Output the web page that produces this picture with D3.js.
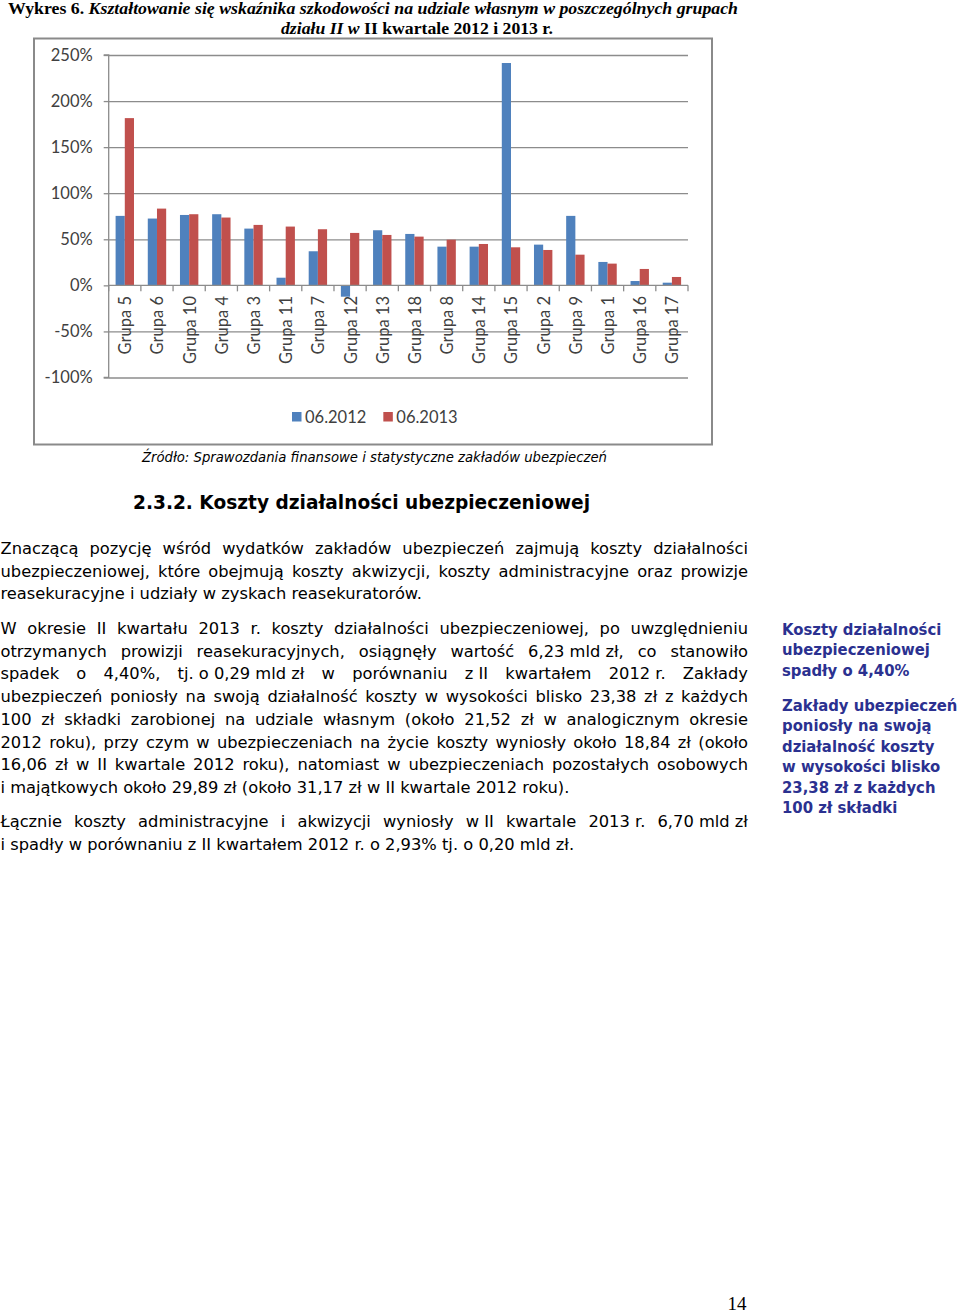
<!DOCTYPE html>
<html>
<head>
<meta charset="utf-8">
<script src="https://cdn.jsdelivr.net/npm/d3@7/dist/d3.min.js"></script>
<style>
html,body{margin:0;padding:0;background:#fff;}
svg{display:block;}
</style>
</head>
<body>
<svg id="page" width="960" height="1314"></svg>
<script>
// ---------- DATA ----------
const categories = ["Grupa 5","Grupa 6","Grupa 10","Grupa 4","Grupa 3","Grupa 11","Grupa 7","Grupa 12","Grupa 13","Grupa 18","Grupa 8","Grupa 14","Grupa 15","Grupa 2","Grupa 9","Grupa 1","Grupa 16","Grupa 17"];
const seriesNames = ["06.2012","06.2013"];
const values2012 = [75.4,72.5,76.4,77.2,61.6,8.3,37.0,-12.3,59.8,55.8,42.0,42.0,241.3,44.2,75.4,25.4,4.7,2.9];
const values2013 = [181.5,83.3,77.2,73.6,65.6,63.8,60.9,56.9,54.7,52.9,49.6,44.9,41.3,38.4,33.3,23.6,17.8,9.1];
const yTicks = [-100,-50,0,50,100,150,200,250];
const seriesColors = ["#4F81BD","#C0504D"];

const titleLine1Plain = "Wykres 6. ";
const titleLine1Italic = "Kształtowanie się wskaźnika szkodowości na udziale własnym w poszczególnych grupach";
const titleLine2Italic = "działu II w ";
const titleLine2Plain = "II kwartale 2012 i 2013 r.";
const sourceText = "Źródło: Sprawozdania finansowe i statystyczne zakładów ubezpieczeń";
const headingText = "2.3.2. Koszty działalności ubezpieczeniowej";
const NB = "\u00a0";
const paragraphs = [
  ["Znaczącą pozycję wśród wydatków zakładów ubezpieczeń zajmują koszty działalności",
   "ubezpieczeniowej, które obejmują koszty akwizycji, koszty administracyjne oraz prowizje",
   "reasekuracyjne i udziały w zyskach reasekuratorów."],
  ["W okresie II kwartału 2013 r. koszty działalności ubezpieczeniowej, po uwzględnieniu",
   "otrzymanych prowizji reasekuracyjnych, osiągnęły wartość 6,23"+NB+"mld"+NB+"zł, co stanowiło",
   "spadek o 4,40%, tj."+NB+"o"+NB+"0,29"+NB+"mld"+NB+"zł w porównaniu z"+NB+"II kwartałem 2012"+NB+"r. Zakłady",
   "ubezpieczeń poniosły na swoją działalność koszty w wysokości blisko 23,38 zł z każdych",
   "100 zł składki zarobionej na udziale własnym (około 21,52 zł w analogicznym okresie",
   "2012 roku), przy czym w ubezpieczeniach na życie koszty wyniosły około 18,84 zł (około",
   "16,06 zł w II kwartale 2012 roku), natomiast w ubezpieczeniach pozostałych osobowych",
   "i majątkowych około 29,89 zł (około 31,17 zł w II kwartale 2012 roku)."],
  ["Łącznie koszty administracyjne i akwizycji wyniosły w"+NB+"II kwartale 2013"+NB+"r. 6,70"+NB+"mld"+NB+"zł",
   "i spadły w porównaniu z II kwartałem 2012 r. o 2,93% tj. o 0,20 mld zł."]
];
const sidebarBlocks = [
  ["Koszty działalności","ubezpieczeniowej","spadły o 4,40%"],
  ["Zakłady ubezpieczeń","poniosły na swoją","działalność koszty","w wysokości blisko","23,38 zł z każdych","100 zł składki"]
];
const pageNumber = "14";

// ---------- PAGE ----------
const svg = d3.select("#page");
const condFont = "'DejaVu Sans Condensed','DejaVu Sans',sans-serif";
const bodyFont = "'DejaVu Sans',Verdana,sans-serif";
const serif = "'Liberation Serif','Times New Roman',serif";
const chartFont = "Lato,'Liberation Sans',sans-serif";

// Title
const t1 = svg.append("text").attr("x",8).attr("y",14)
  .attr("font-family",serif).attr("font-size",17).attr("font-weight","bold")
  .attr("textLength",730).attr("lengthAdjust","spacingAndGlyphs");
t1.append("tspan").text(titleLine1Plain);
t1.append("tspan").attr("font-style","italic").text(titleLine1Italic);
const t2 = svg.append("text").attr("x",281).attr("y",34)
  .attr("font-family",serif).attr("font-size",17).attr("font-weight","bold")
  .attr("textLength",272).attr("lengthAdjust","spacingAndGlyphs");
t2.append("tspan").attr("font-style","italic").text(titleLine2Italic);
t2.append("tspan").text(titleLine2Plain);

// Chart frame
svg.append("rect").attr("x",34).attr("y",38.5).attr("width",678).attr("height",406)
  .attr("fill","#fff").attr("stroke","#8a8a8a").attr("stroke-width",2);

const plot = {left:108.7, right:688, top:55, bottom:377.5};
const y = d3.scaleLinear().domain([-100,250]).range([plot.bottom, plot.top]);
const x = d3.scaleBand().domain(categories).range([plot.left, plot.right]).padding(0);
const xs = d3.scaleBand().domain(seriesNames).range([0, x.bandwidth()]).paddingInner(0).paddingOuter(0.75);

// gridlines
const grid = svg.append("g").attr("transform",`translate(${plot.left},0)`)
  .call(d3.axisLeft(y).tickValues(yTicks.filter(v=>v!==0)).tickSize(-(plot.right-plot.left)).tickFormat(""));
grid.select(".domain").remove();
grid.selectAll("line").attr("stroke","#8c8c8c").attr("stroke-width",1.3);

// y axis
const yAxis = svg.append("g").attr("transform",`translate(${plot.left},0)`)
  .call(d3.axisLeft(y).tickValues(yTicks).tickSize(5).tickPadding(11).tickFormat(d=>d+"%"));
yAxis.select(".domain").attr("stroke","#8c8c8c").attr("stroke-width",1.3).attr("d",`M-5,${plot.bottom}H0V${plot.top}H-5`);
yAxis.selectAll("line").attr("stroke","#8c8c8c").attr("stroke-width",1.3);
yAxis.selectAll("text").attr("font-family",chartFont).attr("font-size",16.5).attr("fill","#404040");

// bars
const data = categories.map((c,i)=>({cat:c, vals:[values2012[i], values2013[i]]}));
const groups = svg.append("g").selectAll("g").data(data).join("g")
  .attr("transform",d=>`translate(${x(d.cat)},0)`);
groups.selectAll("rect").data(d=>d.vals.map((v,k)=>({s:seriesNames[k],v,k}))).join("rect")
  .attr("x",d=>xs(d.s)).attr("width",xs.bandwidth())
  .attr("y",d=>y(Math.max(0,d.v))).attr("height",d=>Math.abs(y(d.v)-y(0)))
  .attr("fill",d=>seriesColors[d.k]);

// category axis
const y0 = y(0);
svg.append("line").attr("x1",plot.left).attr("x2",plot.right).attr("y1",y0).attr("y2",y0)
  .attr("stroke","#8c8c8c").attr("stroke-width",1.3);
const bounds = categories.map(c=>x(c)).concat([x(categories[categories.length-1])+x.bandwidth()]);
svg.append("g").selectAll("line").data(bounds).join("line")
  .attr("x1",d=>d).attr("x2",d=>d).attr("y1",y0).attr("y2",y0+6)
  .attr("stroke","#8c8c8c").attr("stroke-width",1.3);
svg.append("g").selectAll("text").data(categories).join("text")
  .attr("transform",d=>`translate(${x(d)+x.bandwidth()/2+0.5},296) rotate(-90)`)
  .attr("text-anchor","end").attr("dy","0.36em")
  .attr("font-family",chartFont).attr("font-size",16.5).attr("fill","#404040")
  .text(d=>d);

// legend
const legend = svg.append("g").attr("transform","translate(292,417)");
let lx = 0;
seriesNames.forEach((s,k)=>{
  legend.append("rect").attr("x",lx).attr("y",-5).attr("width",9.5).attr("height",9.5).attr("fill",seriesColors[k]);
  const tx = legend.append("text").attr("x",lx+13).attr("y",0).attr("dy","0.36em")
    .attr("font-family",chartFont).attr("font-size",16.5).attr("fill","#404040").text(s);
  lx += 13 + tx.node().getComputedTextLength() + 17;
});

// source
svg.append("text").attr("x",142).attr("y",462).attr("font-family",condFont).attr("font-size",14.5)
  .attr("font-style","italic").attr("textLength",465).attr("lengthAdjust","spacingAndGlyphs")
  .attr("fill","#000").text(sourceText);

// heading
svg.append("text").attr("x",133).attr("y",509).attr("font-family",condFont).attr("font-size",20)
  .attr("font-weight","bold").attr("textLength",457).attr("lengthAdjust","spacingAndGlyphs")
  .attr("fill","#000").text(headingText);

// justified body text
function measure(str, attrs){
  const t = svg.append("text").attr("font-family",attrs.family).attr("font-size",attrs.size)
    .attr("font-weight",attrs.weight||"normal").text(str);
  const w = t.node().getComputedTextLength(); t.remove(); return w;
}
function drawLine(g, str, x0, yb, width, justify, attrs){
  const words = str.split(" ");
  const widths = words.map(w=>measure(w, attrs));
  const space = measure("a a",attrs) - measure("aa",attrs);
  const total = d3.sum(widths);
  let gap = (justify && words.length>1) ? (width-total)/(words.length-1) : space;
  let scale = 1;
  if (justify && gap < space*0.5) { gap = space*0.5; scale = (width - gap*(words.length-1))/total; }
  let cx = x0;
  words.forEach((w,i)=>{
    const t = g.append("text").attr("x",cx).attr("y",yb).attr("font-family",attrs.family)
      .attr("font-size",attrs.size).attr("font-weight",attrs.weight||"normal")
      .attr("fill",attrs.color).text(w);
    if (scale !== 1) t.attr("textLength",widths[i]*scale).attr("lengthAdjust","spacingAndGlyphs");
    cx += widths[i]*scale + gap;
  });
}
const bodyAttrs = {family:bodyFont, size:16.3, color:"#000"};
const bodyG = svg.append("g");
const paraStarts = [554, 634, 827];
const lh = 22.7;
paragraphs.forEach((lines,p)=>{
  lines.forEach((ln,i)=>{
    drawLine(bodyG, ln, 0.5, paraStarts[p]+i*lh, 747.5, i<lines.length-1, bodyAttrs);
  });
});

// sidebar
const sideAttrs = {family:condFont, size:16.5, weight:"bold", color:"#2b3190"};
const sideStarts = [635, 711];
const slh = 20.4;
sidebarBlocks.forEach((lines,b)=>{
  lines.forEach((ln,i)=>{
    drawLine(bodyG, ln, 782, sideStarts[b]+i*slh, 0, false, sideAttrs);
  });
});

// page number
svg.append("text").attr("x",737).attr("y",1310).attr("text-anchor","middle")
  .attr("font-family",serif).attr("font-size",19).attr("fill","#000").text(pageNumber);
</script>
</body>
</html>
